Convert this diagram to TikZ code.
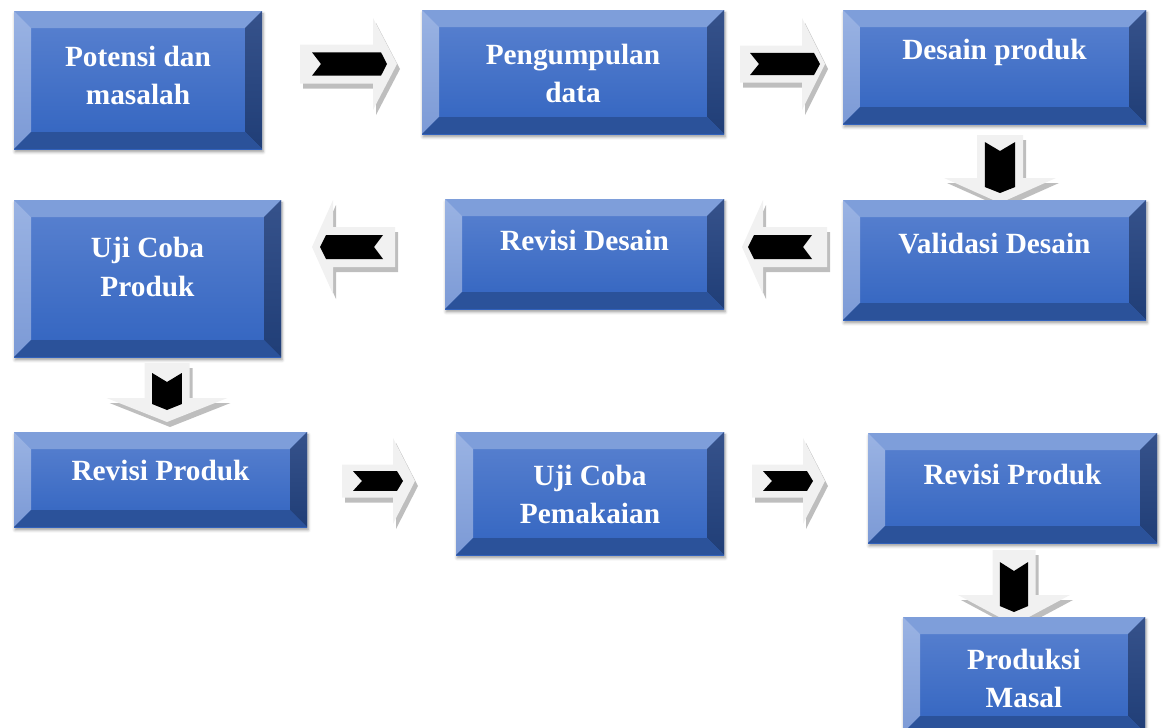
\documentclass[tikz,border=0pt]{standalone}
\usepackage{fontspec}
\setmainfont{Liberation Serif}
\usetikzlibrary{shadows.blur,calc}
\definecolor{faceTop}{HTML}{5A82D0}
\definecolor{faceBot}{HTML}{3264C0}
\definecolor{bevTop}{HTML}{7E9EDA}
\definecolor{bevLeftT}{HTML}{9AB3E3}
\definecolor{bevLeftB}{HTML}{7C9AD6}
\definecolor{bevRightT}{HTML}{36528B}
\definecolor{bevRightB}{HTML}{203E77}
\definecolor{bevBot}{HTML}{2B529A}
\definecolor{arrFill}{HTML}{F1F1F1}
\definecolor{arrShade}{HTML}{BEBEBE}
\tikzset{
  face/.style={draw=none, inner sep=0pt, outer sep=0pt, shading=axis,
    top color=faceTop, bottom color=faceBot,
    blur shadow={shadow xshift=0.8pt, shadow yshift=-2.2pt, shadow blur radius=2.2pt, shadow opacity=40}},
  boxtext/.style={text=white, font=\bfseries\fontsize{22}{28.5}\selectfont, align=center, inner sep=0pt},
}
\newcommand\bv{17}
% #1 name, #2 x1, #3 y1, #4 x2, #5 y2, #6 text y, #7 text
\newcommand\bevelbox[7]{%
  \node[face, minimum width={(#4-#2)*0.75pt}, minimum height={(#5-#3)*0.75pt}] (#1) at ({(#2+#4)/2},{(#3+#5)/2}) {};
  \fill[bevTop] (#1.north west) -- (#1.north east) -- ++(-\bv,\bv) -- ($(#1.north west)+(\bv,\bv)$) -- cycle;
  \shade[top color=bevLeftT, bottom color=bevLeftB] (#1.north west) -- ++(\bv,\bv) -- ($(#1.south west)+(\bv,-\bv)$) -- (#1.south west) -- cycle;
  \shade[top color=bevRightT, bottom color=bevRightB] (#1.north east) -- (#1.south east) -- ++(-\bv,-\bv) -- ($(#1.north east)+(-\bv,\bv)$) -- cycle;
  \fill[bevBot] (#1.south west) -- (#1.south east) -- ++(-\bv,-\bv) -- ($(#1.south west)+(\bv,-\bv)$) -- cycle;
  \node[boxtext] (#1-t) at ({(#2+#4)/2},#6) {#7};
}
\newcommand\bh{0.6}
% #1 centre, #2 rotation, #3 tail, #4 head base, #5 tip, #6 head half width, #7 shaft half width, #8 black start, #9 black end
\newcommand\blockarrow[9]{%
  \begin{scope}[shift={#1}, shift={(3,5)}, rotate=#2]
    \fill[arrShade] (#3,-#7) -- (#4,-#7) -- (#4,-#6) -- (#5,0) -- (#4,#6) -- (#4,#7) -- (#3,#7) -- cycle;
  \end{scope}
  \begin{scope}[shift={#1}, rotate=#2]
    \fill[arrFill] (#3,-#7) -- (#4,-#7) -- (#4,-#6) -- (#5,0) -- (#4,#6) -- (#4,#7) -- (#3,#7) -- cycle;
    \fill[black] ({#8},{-\bh*#7}) -- ({#9-6},{-\bh*#7}) -- (#9,0) -- ({#9-6},{\bh*#7}) -- ({#8},{\bh*#7}) -- ({#8+9},0) -- cycle;
  \end{scope}}
\begin{document}
\begin{tikzpicture}[x=0.75pt, y=-0.75pt]
\useasboundingbox (0,0) rectangle (1165,728);
\clip (0,0) rectangle (1165,728);
% arrows
\blockarrow{(348.5,64)}{0}{-48.5}{24.5}{48.5}{46}{19.5}{-36.5}{38.5}
\blockarrow{(782.5,64)}{0}{-42.5}{19.5}{42.5}{46}{18.5}{-32.5}{37.5}
\blockarrow{(784.5,247)}{180}{-42.5}{21.5}{42.5}{47}{20}{-27.5}{36.5}
\blockarrow{(353.5,247)}{180}{-41.5}{20.5}{41.5}{47}{20}{-29.5}{33.5}
\blockarrow{(378.5,481)}{0}{-36.5}{14.5}{36.5}{43}{16.5}{-25.5}{24.5}
\blockarrow{(788.5,481)}{0}{-36.5}{14.5}{36.5}{43}{16.5}{-25.5}{24.5}
\renewcommand\bh{0.66}
\blockarrow{(1000,169)}{-90}{-34}{9}{34}{56}{23}{-27}{24}
\blockarrow{(167,392.5)}{-90}{-29.5}{5.5}{29.5}{60.5}{22.5}{-19.5}{17.5}
\blockarrow{(1014,587.5)}{-90}{-37.5}{7.5}{37.5}{56}{21.5}{-25.5}{24.5}
% boxes
\bevelbox{b1}{14}{11}{262}{149}{75}{Potensi dan\\masalah}
\bevelbox{b2}{422}{10}{724}{134}{73}{Pengumpulan\\data}
\bevelbox{b3}{843}{10}{1146}{124}{52}{Desain produk}
\bevelbox{b4}{843}{200}{1146}{320}{244}{Validasi Desain}
\bevelbox{b5}{445}{199}{724}{309}{240}{Revisi Desain}
\bevelbox{b6}{14}{200}{281}{357}{267}{Uji Coba\\Produk}
\bevelbox{b7}{14}{432}{307}{527}{470}{Revisi Produk}
\bevelbox{b8}{456}{432}{724}{555}{494}{Uji Coba\\Pemakaian}
\bevelbox{b9}{868}{433}{1157}{543}{474}{Revisi Produk}
\bevelbox{b10}{903}{617}{1145}{733}{678}{Produksi\\Masal}
\end{tikzpicture}
\end{document}
